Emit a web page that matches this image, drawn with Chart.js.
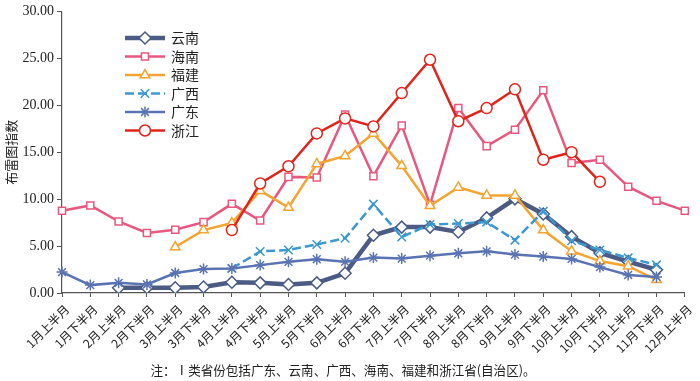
<!DOCTYPE html>
<html>
<head>
<meta charset="utf-8">
<script src="https://cdn.jsdelivr.net/npm/chart.js"></script>
<style>
  html, body { margin: 0; padding: 0; background: #fff; }
  #wrap { width: 700px; height: 381px; }
</style>
</head>
<body>
<div id="wrap"><canvas id="lineChart" width="700" height="381"></canvas></div>
<script>
// half-month periods
var labels = ["1月上半月", "1月下半月", "2月上半月", "2月下半月", "3月上半月", "3月下半月",
  "4月上半月", "4月下半月", "5月上半月", "5月下半月", "6月上半月", "6月下半月",
  "7月上半月", "7月下半月", "8月上半月", "8月下半月", "9月上半月", "9月下半月",
  "10月上半月", "10月下半月", "11月上半月", "11月下半月", "12月上半月"];

var yunnan = [null, null, 0.56, 0.56, 0.55, 0.63, 1.15, 1.08, 0.91, 1.08, 2.1, 6.15,
  7.02, 7.02, 6.5, 8.0, 10.03, 8.42, 6.0, 4.27, 3.35, 2.48, null];
var hainan = [8.77, 9.33, 7.62, 6.39, 6.74, 7.55, 9.5, 7.72, 12.37, 12.3, 19.0, 12.44,
  17.85, 9.4, 19.7, 15.65, 17.4, 21.6, 13.84, 14.2, 11.32, 9.82, 8.77];
var fujian = [null, null, null, null, 4.9, 6.7, 7.45, 10.9, 9.1, 13.75, 14.6, 17.0,
  13.55, 9.3, 11.25, 10.4, 10.4, 6.7, 4.45, 3.4, 2.85, 1.4, null];
var guangxi = [null, null, null, null, null, null, 2.62, 4.43, 4.58, 5.17, 5.84, 9.47,
  5.97, 7.3, 7.4, 7.55, 5.63, 8.7, 5.56, 4.58, 3.74, 3.0, null];
var guangdong = [2.23, 0.84, 1.08, 0.91, 2.13, 2.55, 2.62, 2.97, 3.32, 3.6, 3.32, 3.77,
  3.67, 3.98, 4.23, 4.44, 4.09, 3.88, 3.63, 2.76, 1.92, 1.71, null];
var zhejiang = [null, null, null, null, null, null, 6.7, 11.67, 13.5, 17.0, 18.6, 17.75,
  21.3, 24.85, 18.3, 19.7, 21.7, 14.2, 15.0, 11.85, null, null, null];

var yTicks = [0, 5, 10, 15, 20, 25, 30];
var note = "注：Ⅰ类省份包括广东、云南、广西、海南、福建和浙江省(自治区)。";

var cjk = "'Noto Sans CJK SC', 'Noto Sans', sans-serif";
var serif = "'Liberation Serif', 'DejaVu Serif', serif";

// legend drawn as line + marker like the original, plus the footnote
var lineLegend = {
  id: 'lineLegend',
  afterDraw: function(chart) {
    var ctx = chart.ctx;
    var x0 = 125, x1 = 165, y = 38, step = 18.5;
    chart.data.datasets.forEach(function(ds, i) {
      var yy = y + i * step;
      ctx.save();
      ctx.strokeStyle = ds.borderColor;
      ctx.lineWidth = ds.borderWidth;
      ctx.setLineDash(ds.borderDash || []);
      ctx.beginPath();
      ctx.moveTo(x0, yy);
      ctx.lineTo(x1, yy);
      ctx.stroke();
      ctx.setLineDash([]);
      ctx.fillStyle = ds.pointBackgroundColor;
      ctx.strokeStyle = ds.pointBorderColor;
      ctx.lineWidth = ds.pointBorderWidth;
      Chart.helpers.drawPoint(ctx, {
        pointStyle: ds.pointStyle,
        radius: ds.pointRadius,
        borderWidth: ds.pointBorderWidth,
        rotation: 0
      }, (x0 + x1) / 2, yy);
      ctx.fillStyle = '#222';
      ctx.font = '14px ' + cjk;
      ctx.textBaseline = 'middle';
      ctx.textAlign = 'left';
      ctx.fillText(ds.label, x1 + 6, yy);
      ctx.restore();
    });
    ctx.save();
    ctx.fillStyle = '#222';
    ctx.font = '13px ' + cjk;
    ctx.textBaseline = 'middle';
    ctx.textAlign = 'center';
    ctx.fillText(note, 343, 370, 385);
    ctx.restore();
  }
};

function series(label, data, color, style, radius, width, order, dash) {
  return {
    label: label,
    data: data,
    borderColor: color,
    backgroundColor: color,
    borderWidth: width,
    borderDash: dash || [],
    pointStyle: style,
    pointRadius: radius,
    pointBorderWidth: 1.5,
    pointBorderColor: color,
    pointBackgroundColor: (style == 'crossRot' || style == 'star') ? color : '#fff',
    tension: 0,
    spanGaps: false,
    order: order
  };
}

var ctx = document.getElementById("lineChart").getContext('2d');
var myChart = new Chart(ctx, {
  type: 'line',
  data: {
    labels: labels,
    datasets: [
      series('云南', yunnan, '#4B5B84', 'rectRot', 6, 4.5, 5),
      series('海南', hainan, '#E8587E', 'rect', 5, 2.5, 4),
      series('福建', fujian, '#F5A331', 'triangle', 5.5, 2.5, 3),
      series('广西', guangxi, '#3B98D0', 'crossRot', 6, 2.5, 2, [9, 4]),
      series('广东', guangdong, '#5A73B3', 'star', 5.5, 2.5, 1),
      series('浙江', zhejiang, '#E2231A', 'circle', 5.5, 2.5, 0)
    ]
  },
  plugins: [lineLegend],
  options: {
    responsive: false,
    animation: false,
    devicePixelRatio: 1,
    layout: { padding: { top: 7, right: 14, left: 0, bottom: 0 } },
    plugins: {
      legend: { display: false },
      tooltip: { enabled: false }
    },
    scales: {
      x: {
        offset: false,
        grid: { drawOnChartArea: false, color: '#555', tickLength: 4 },
        border: { color: '#555', width: 1.2 },
        ticks: {
          autoSkip: false,
          maxRotation: 45,
          minRotation: 45,
          padding: 5,
          labelOffset: 5,
          color: '#222',
          font: { family: cjk, size: 12 }
        },
        afterFit: function(scale) { scale.height = 88; }
      },
      y: {
        min: 0,
        max: 30,
        afterBuildTicks: function(scale) {
          scale.ticks = yTicks.map(function(v) { return { value: v }; });
        },
        grid: { drawOnChartArea: false, color: '#555', tickLength: 5 },
        border: { color: '#555', width: 1.2 },
        ticks: {
          color: '#222',
          padding: 3,
          font: { family: serif, size: 14 },
          callback: function(v) { return Number(v).toFixed(2); }
        },
        title: {
          display: true,
          text: '布雷图指数',
          color: '#222',
          padding: { top: 3, bottom: 0 },
          font: { family: cjk, size: 13 }
        },
        afterFit: function(scale) { scale.width = 62; }
      }
    }
  }
});
</script>
</body>
</html>
